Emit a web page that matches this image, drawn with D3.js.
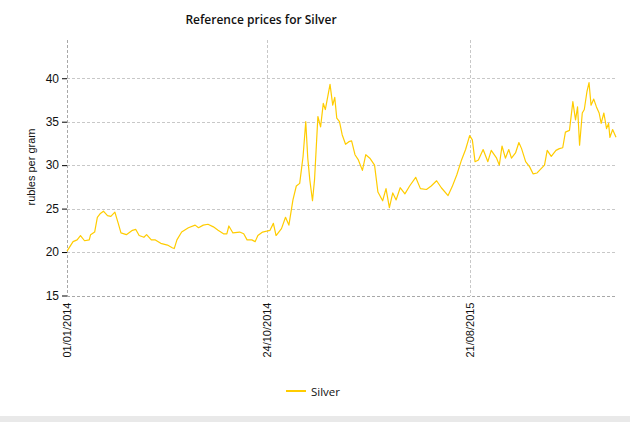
<!DOCTYPE html>
<html>
<head>
<meta charset="utf-8">
<script src="https://cdn.jsdelivr.net/npm/d3@7"></script>
<style>
    body { margin: 0; background: #fff; }
    .gridlines line { stroke: #c8c8c8; stroke-dasharray: 3,2; shape-rendering: crispEdges; }
    .tick-text { font-family: "Liberation Sans", Arial, sans-serif; fill: #111; }
</style>
</head>
<body>
<div id="chart"></div>
<script>
// Chart data: silver reference price, rubles per gram
const dates = [
    "2014-01-01","2014-01-10","2014-01-16","2014-01-21","2014-01-27","2014-02-03","2014-02-05","2014-02-11",
    "2014-02-15","2014-02-19","2014-02-24","2014-03-02","2014-03-07","2014-03-13","2014-03-18","2014-03-22",
    "2014-03-30","2014-04-08","2014-04-13","2014-04-18","2014-04-25","2014-04-29","2014-05-06","2014-05-12",
    "2014-05-20","2014-05-30","2014-06-06","2014-06-09","2014-06-13","2014-06-20","2014-06-30","2014-07-10",
    "2014-07-15","2014-07-22","2014-07-29","2014-08-06","2014-08-13","2014-08-21","2014-08-26","2014-08-29",
    "2014-09-04","2014-09-14","2014-09-20","2014-09-25","2014-10-02","2014-10-07","2014-10-11","2014-10-18",
    "2014-10-24","2014-10-29","2014-11-03","2014-11-07","2014-11-15","2014-11-21","2014-11-26","2014-12-02",
    "2014-12-07","2014-12-12","2014-12-17","2014-12-21","2014-12-24","2014-12-27","2014-12-31","2015-01-03",
    "2015-01-08","2015-01-12","2015-01-16","2015-01-19","2015-01-26","2015-01-30","2015-02-02","2015-02-05",
    "2015-02-09","2015-02-13","2015-02-18","2015-02-23","2015-02-27","2015-03-04","2015-03-09","2015-03-15",
    "2015-03-20","2015-03-26","2015-04-02","2015-04-07","2015-04-14","2015-04-19","2015-04-24","2015-04-29",
    "2015-05-04","2015-05-10","2015-05-17","2015-05-24","2015-06-02","2015-06-09","2015-06-18","2015-06-25",
    "2015-07-03","2015-07-10","2015-07-20","2015-07-26","2015-08-02","2015-08-09","2015-08-15","2015-08-21",
    "2015-08-25","2015-08-29","2015-09-03","2015-09-10","2015-09-17","2015-09-22","2015-09-30","2015-10-04",
    "2015-10-08","2015-10-13","2015-10-18","2015-10-22","2015-10-28","2015-11-02","2015-11-06","2015-11-12",
    "2015-11-18","2015-11-23","2015-11-29","2015-12-05","2015-12-10","2015-12-14","2015-12-20","2015-12-27",
    "2016-01-01","2016-01-06","2016-01-10","2016-01-16","2016-01-21","2016-01-25","2016-01-28","2016-01-31",
    "2016-02-04","2016-02-07","2016-02-11","2016-02-14","2016-02-17","2016-02-21","2016-02-25","2016-02-29",
    "2016-03-03","2016-03-07","2016-03-11","2016-03-14","2016-03-16","2016-03-20","2016-03-25"
];
const silver = [
    20.1,21.2,21.4,21.9,21.3,21.4,22.0,22.3,
    24.0,24.4,24.7,24.2,24.1,24.6,23.3,22.2,
    22.0,22.5,22.6,21.9,21.7,22.0,21.4,21.4,
    21.0,20.8,20.5,20.4,21.4,22.3,22.8,23.1,
    22.8,23.1,23.2,22.9,22.5,22.1,22.1,23.0,
    22.2,22.3,22.1,21.4,21.4,21.2,21.9,22.3,
    22.4,22.5,23.3,21.9,22.7,24.0,23.1,26.0,
    27.6,27.9,31.0,35.0,30.8,28.3,25.9,28.3,
    35.6,34.4,37.1,36.4,39.3,36.9,37.8,35.4,
    35.0,33.5,32.4,32.7,32.8,31.2,30.6,29.4,
    31.2,30.8,30.0,26.9,25.9,27.3,25.1,26.8,
    26.0,27.4,26.7,27.6,28.6,27.3,27.2,27.6,
    28.2,27.4,26.5,27.5,28.9,30.6,31.8,33.4,
    32.9,30.4,30.6,31.8,30.4,31.7,30.8,30.0,
    32.2,30.8,31.8,30.8,31.4,32.6,31.9,30.4,
    29.8,29.0,29.1,29.6,30.0,31.7,31.0,31.7,
    31.9,32.0,33.8,34.0,37.3,35.2,36.7,32.3,
    36.0,36.4,38.5,39.5,36.9,37.6,36.7,36.0,
    34.8,36.0,34.2,34.8,33.2,34.1,33.2
];
const xTicks = ["2014-01-01", "2014-10-24", "2015-08-21"];
const yTicks = [15, 20, 25, 30, 35, 40];
const seriesName = "Silver";

const parseDate = d3.timeParse("%Y-%m-%d");
const data = dates.map((d, i) => ({ date: parseDate(d), value: silver[i] }));

const W = 630, H = 422;
const plot = { left: 67, right: 616, top: 40, bottom: 295.5 };

const svg = d3.select("#chart")
    .append("svg")
        .attr("width", W)
        .attr("height", H)
;

// grey strip along the bottom
svg.append("rect")
    .attr("x", 0).attr("y", 416)
    .attr("width", W).attr("height", H - 416)
    .attr("fill", "#e9e9e9")
;

const x = d3.scaleTime()
    .domain([parseDate(dates[0]), parseDate(dates[dates.length - 1])])
    .range([plot.left, plot.right]);
const y = d3.scaleLinear()
    .domain([15, 44.4])
    .range([plot.bottom, plot.top]);

// Gridlines
const grid = svg.append("g").attr("class", "gridlines");
grid.selectAll("line.h")
    .data(yTicks)
    .join("line")
        .attr("class", "h")
        .attr("x1", plot.left)
        .attr("x2", plot.right)
        .attr("y1", d => Math.round(y(d)) + 0.5)
        .attr("y2", d => Math.round(y(d)) + 0.5)
        .style("stroke", d => d === 15 ? "#a8a8a8" : null)
;
grid.selectAll("line.v")
    .data(xTicks.map(parseDate))
    .join("line")
        .attr("class", "v")
        .attr("x1", d => Math.round(x(d)) + 0.5)
        .attr("x2", d => Math.round(x(d)) + 0.5)
        .attr("y1", plot.top)
        .attr("y2", plot.bottom)
        .style("stroke", (d, i) => i === 0 ? "#a8a8a8" : null)
;

// Y axis ticks and labels
const yAxis = svg.append("g")
    .attr("transform", `translate(${plot.left},0)`)
    .call(d3.axisLeft(y).tickValues(yTicks).tickSize(5).tickPadding(3))
    .call(g => g.select(".domain").remove())
;
yAxis.selectAll(".tick line").attr("stroke", "#000");
yAxis.selectAll(".tick text")
    .attr("class", "tick-text")
    .style("font-size", "12px")
;

// X axis labels (rotated)
const xAxis = svg.append("g")
    .attr("transform", `translate(0,${plot.bottom})`)
    .call(d3.axisBottom(x)
        .tickValues(xTicks.map(parseDate))
        .tickFormat(d3.timeFormat("%d/%m/%Y"))
        .tickSize(0))
    .call(g => g.select(".domain").remove())
;
xAxis.selectAll(".tick text")
    .attr("class", "tick-text")
    .style("font-size", "11px")
    .attr("transform", "rotate(-90)")
    .attr("text-anchor", "end")
    .attr("x", -7)
    .attr("y", 0)
    .attr("dy", "0.35em")
;

// Line
const line = d3.line()
    .x(d => x(d.date))
    .y(d => y(d.value))
;
svg.append("path")
    .datum(data)
    .attr("d", line)
    .attr("fill", "none")
    .attr("stroke", "#ffcc00")
    .attr("stroke-width", 1.2)
    .attr("stroke-linejoin", "round")
;

// Titles
svg.append("text")
    .attr("x", 261)
    .attr("y", 24)
    .attr("text-anchor", "middle")
    .style("font-family", "'Open Sans', sans-serif")
    .style("font-size", "12px")
    .style("font-weight", 600)
    .style("fill", "#111")
    .text("Reference prices for Silver")
;
svg.append("text")
    .attr("transform", "rotate(-90)")
    .attr("x", -167)
    .attr("y", 35)
    .attr("text-anchor", "middle")
    .attr("class", "tick-text")
    .style("font-size", "11px")
    .text("rubles per gram")
;

// Legend
const legend = svg.append("g").attr("transform", "translate(286,391)");
legend.append("line")
    .attr("x1", 0).attr("x2", 20)
    .attr("y1", 0).attr("y2", 0)
    .attr("stroke", "#ffcc00")
    .attr("stroke-width", 2)
;
legend.append("text")
    .attr("x", 25)
    .attr("y", 5)
    .style("font-family", "'Open Sans', sans-serif")
    .style("font-size", "11.5px")
    .style("fill", "#111")
    .text(seriesName)
;
</script>
</body>
</html>
